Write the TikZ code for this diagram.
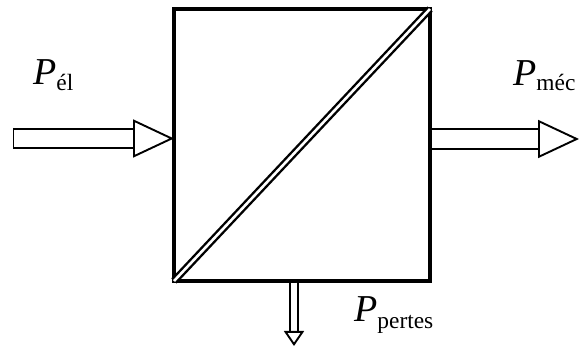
\documentclass[tikz,border=0pt]{standalone}
\usepackage{fontspec}
\setmainfont{Liberation Serif}
\usetikzlibrary{arrows.meta,calc}
\newcommand{\powlabel}[2]{\textit{P}\raisebox{#1}{\fontsize{23.4}{24}\selectfont #2}}

\begin{document}
\begin{tikzpicture}[x=1pt, y=-1pt, font=\fontsize{38}{39}\selectfont,
  machine/.style={draw, line width=3.6pt, outer sep=0pt, minimum width=256pt, minimum height=272pt},
  lab/.style={anchor=base west, inner sep=0pt},
  flow/.style={line width=1.9pt, double distance=#1},
  tipbig/.style={-{Triangle[open, fill=white, line width=1.9pt, length=41pt, width=38pt]}},
  tipsmall/.style={-{Triangle[open, fill=white, line width=1.9pt, length=15pt, width=20pt]}}]
\useasboundingbox (0,0) rectangle (579,347);
\node[machine] (box) at (302,145) {};
\coordinate (in) at (13.5,138.5);
\coordinate (out) at (579,139);
\coordinate (loss) at (294,346);
\draw[flow=17.5pt, tipbig] (in) -- (in -| box.west);
\draw[line width=1.9pt] ($(in)+(0,-10.6)$) -- ($(in)+(0,10.6)$);
\draw[flow=17.5pt, tipbig, shorten <=1.7pt] (out -| box.east) -- (out);
\draw[flow=6.5pt, tipsmall, shorten <=1.7pt] (loss |- box.south) -- (loss);
\draw[line width=2.4pt, double distance=2.6pt] (box.south west) -- (box.north east);
\node[lab] (pel) at (33,85) {\powlabel{-6pt}{él}};
\node[lab] (pmec) at (513,86) {\powlabel{-5pt}{méc}};
\node[lab] (ppertes) at (354,322) {\powlabel{-7pt}{pertes}};
\end{tikzpicture}
\end{document}
